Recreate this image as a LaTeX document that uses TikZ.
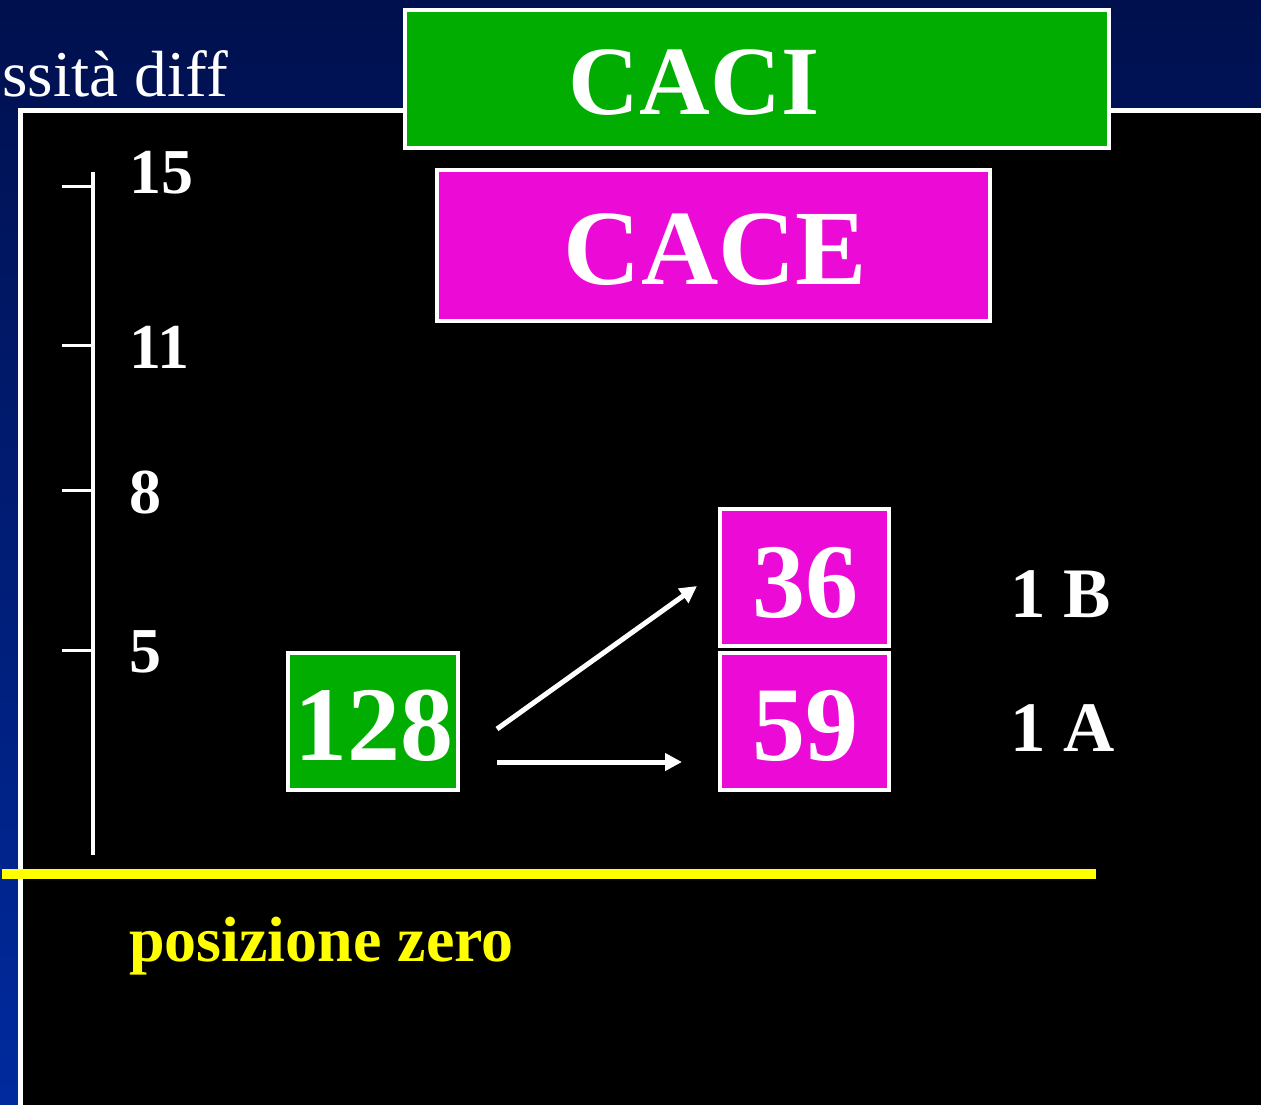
\documentclass[tikz,border=0pt]{standalone}
\usepackage{fontspec}
\setmainfont{Liberation Serif}
\usetikzlibrary{arrows.meta}
\definecolor{navytop}{RGB}{0,16,78}
\definecolor{navybot}{RGB}{0,42,158}
\definecolor{boxgreen}{RGB}{0,173,0}
\definecolor{boxmagenta}{RGB}{236,10,214}
\definecolor{zeroyellow}{RGB}{255,255,0}
\begin{document}
\begin{tikzpicture}[x=1pt,y=-1pt,
  boxline/.style={draw=white,line width=4pt,inner sep=0pt},
  bigword/.style={text=white,inner sep=0pt,anchor=base},
  numtext/.style={text=white,font=\fontsize{106}{110}\selectfont\bfseries,inner sep=0pt,anchor=base},
  axislabel/.style={text=white,font=\fontsize{64}{70}\selectfont\bfseries,inner sep=0pt,anchor=base west},
  sidelabel/.style={text=white,font=\fontsize{71}{76}\selectfont\bfseries,inner sep=0pt,anchor=base west},
  axisline/.style={draw=white,line width=4.5pt},
  tickline/.style={draw=white,line width=3pt},
  arr/.style={draw=white,line width=5pt,-{Triangle[length=17pt,width=17pt]}}]
\useasboundingbox (0,0) rectangle (1261,1104);
\clip (0,0) rectangle (1261,1104);
% slide background
\shade[top color=navytop,bottom color=navybot] (0,0) rectangle (1261,1104);
\node[anchor=base east,text=white,font=\fontsize{65.3}{70}\selectfont,inner sep=0pt] (title) at (228,96) {essità diff};
% black panel
\draw[draw=white,line width=5pt,fill=black] (20.5,110.5) rectangle (1275,1120);
% vertical scale
\coordinate (axtop) at (93,172);
\coordinate (axbot) at (93,855);
\draw[axisline] (axtop) -- (axbot);
\foreach \yy/\lab/\base in {186/15/193, 345/11/368, 490/8/513, 650/5/672}{
  \draw[tickline] (62,\yy) -- (93,\yy);
  \node[axislabel] (lab\lab) at (129,\base) {\lab};
}
% zero line
\coordinate (zl) at (2,873.5);
\coordinate (zr) at (1096,873.5);
\draw[zeroyellow,line width=10pt] (zl) -- (zr);
\node[anchor=base west,text=zeroyellow,font=\fontsize{64}{68}\selectfont\bfseries,inner sep=0pt] (zero) at (129,961) {posizione zero};
% header boxes
\node[boxline,fill=boxgreen,minimum width=704pt,minimum height=138pt] (caci) at (757,79) {};
\node[bigword,font=\fontsize{98}{104}\selectfont\bfseries] (cacitxt) at (694,114) {CACI};
\node[boxline,fill=boxmagenta,minimum width=553pt,minimum height=151pt] (cace) at (713.5,245.5) {};
\node[bigword,font=\fontsize{107}{112}\selectfont\bfseries] (cacetxt) at (715.5,284) {CACE};
% value boxes
\node[boxline,fill=boxgreen,minimum width=170pt,minimum height=137pt] (n128) at (373,721.5) {};
\node[numtext] (t128) at (374,760) {128};
\node[boxline,fill=boxmagenta,minimum width=169pt,minimum height=137pt] (n36) at (804.5,577.5) {};
\node[numtext] (t36) at (805,617) {36};
\node[boxline,fill=boxmagenta,minimum width=169pt,minimum height=137pt] (n59) at (804.5,721.5) {};
\node[numtext] (t59) at (805,760) {59};
% arrows
\draw[arr] ([shift={(37,7.5)}]n128.east) -- ([shift={(-21,8.5)}]n36.west);
\draw[arr] ([shift={(37,40.5)}]n128.east) -- ([shift={(-36,40.5)}]n59.west);
% side labels
\node[sidelabel] (l1b) at (1010,617) {1 B};
\node[sidelabel] (l1a) at (1010,751) {1 A};
\end{tikzpicture}
\end{document}
